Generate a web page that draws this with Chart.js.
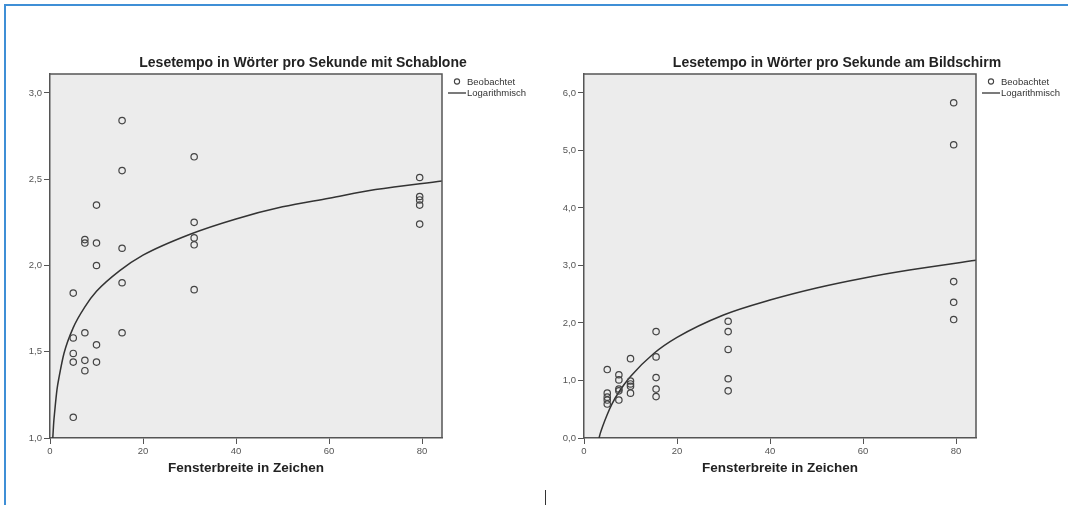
<!DOCTYPE html>
<html lang="de">
<head>
<meta charset="utf-8">
<title>Lesetempo</title>
<script src="https://cdn.jsdelivr.net/npm/chart.js@4.4.1/dist/chart.umd.min.js"></script>
<style>
  body { margin: 0; background: #fff; width: 1068px; height: 505px; overflow: hidden; position: relative; }
  #rahmen { position: absolute; left: 4px; top: 4px; width: 1080px; height: 520px; border-top: 2px solid #3f8fd6; border-left: 2px solid #3f8fd6; }
  canvas { position: absolute; top: 0; }
  #strich { position: absolute; left: 545px; top: 490px; width: 1px; height: 15px; background: #333; }
</style>
</head>
<body>
<div id="rahmen"></div>
<canvas id="links" width="534" height="505" style="left:0"></canvas>
<canvas id="rechts" width="534" height="505" style="left:534px"></canvas>
<div id="strich"></div>
<script>
// Fensterbreiten (x-Achse), pro Breite 5 Messwerte
const breiten = [5, 7.5, 10, 15.5, 31, 79.5];

// Lesetempo mit Schablone (Wörter pro Sekunde)
const tempoSchablone = [
  [1.84, 1.58, 1.49, 1.44, 1.12],
  [2.15, 2.13, 1.61, 1.45, 1.39],
  [2.35, 2.13, 2.00, 1.54, 1.44],
  [2.84, 2.55, 2.10, 1.90, 1.61],
  [2.63, 2.25, 2.16, 2.12, 1.86],
  [2.51, 2.40, 2.38, 2.35, 2.24]
];

// Lesetempo am Bildschirm
const tempoBildschirm = [
  [1.19, 0.78, 0.71, 0.66, 0.59],
  [1.10, 1.01, 0.85, 0.82, 0.66],
  [1.38, 0.99, 0.94, 0.90, 0.78],
  [1.85, 1.41, 1.05, 0.85, 0.72],
  [2.03, 1.85, 1.54, 1.03, 0.82],
  [5.83, 5.10, 2.72, 2.36, 2.06]
];

// logarithmische Kurven
const kurveXSchablone = [0.6, 0.8, 1, 1.5, 2, 3, 5, 7.5, 10, 15, 20, 30, 40, 50, 60, 70, 84.3];
const kurveYSchablone = [1.00, 1.09, 1.15, 1.28, 1.36, 1.49, 1.64, 1.76, 1.85, 1.97, 2.06, 2.18, 2.27, 2.34, 2.39, 2.44, 2.49];
const kurveXBildschirm = [3.23, 3.5, 4, 5, 6, 7.5, 10, 15, 20, 30, 40, 50, 60, 70, 84.3];
const kurveYBildschirm = [0.00, 0.08, 0.20, 0.41, 0.59, 0.80, 1.07, 1.47, 1.75, 2.14, 2.40, 2.61, 2.78, 2.92, 3.09];

// Achsenbeschriftungen
const xTicks = [0, 20, 40, 60, 80];
const yTicksSchablone = [1.0, 1.5, 2.0, 2.5, 3.0];
const yTicksBildschirm = [0, 1, 2, 3, 4, 5, 6];

const legendeTexte = ["Beobachtet", "Logarithmisch"];
const xTitel = "Fensterbreite in Zeichen";

Chart.defaults.font.family = '"Liberation Sans", Arial, sans-serif';

// Hintergrund, Rahmen, Titel und Legende
function beschriftung(titel) {
  return {
    id: "beschriftung",
    beforeDraw(chart) {
      const { ctx, chartArea: a } = chart;
      ctx.save();
      ctx.fillStyle = "#ececec";
      ctx.fillRect(a.left, a.top, a.right - a.left, a.bottom - a.top);
      ctx.restore();
    },
    afterDraw(chart) {
      const { ctx, chartArea: a } = chart;
      ctx.save();
      // oberer und rechter Rand
      ctx.strokeStyle = "#555";
      ctx.lineWidth = 1.5;
      ctx.beginPath();
      ctx.moveTo(a.left, a.top);
      ctx.lineTo(a.right, a.top);
      ctx.lineTo(a.right, a.bottom);
      ctx.stroke();
      // Titel
      ctx.fillStyle = "#222";
      ctx.font = 'bold 14px "Liberation Sans", Arial, sans-serif';
      ctx.textAlign = "center";
      ctx.textBaseline = "middle";
      ctx.fillText(titel, 303, 63);
      // Legende
      ctx.font = '9.5px "Liberation Sans", Arial, sans-serif';
      ctx.textAlign = "left";
      ctx.fillStyle = "#333";
      ctx.strokeStyle = "#444";
      ctx.lineWidth = 1.1;
      ctx.beginPath();
      ctx.arc(457, 81.5, 2.6, 0, Math.PI * 2);
      ctx.stroke();
      ctx.fillText(legendeTexte[0], 467, 82);
      ctx.strokeStyle = "#333";
      ctx.lineWidth = 1.3;
      ctx.beginPath();
      ctx.moveTo(448, 93);
      ctx.lineTo(466, 93);
      ctx.stroke();
      ctx.fillText(legendeTexte[1], 467, 93.5);
      ctx.restore();
    }
  };
}

function baueConfig(werte, kurveX, kurveY, yTicks, yMin, yMax, titel) {
  const punkte = [];
  breiten.forEach(function (b, i) {
    werte[i].forEach(function (v) { punkte.push({ x: b, y: v }); });
  });
  const kurve = kurveX.map(function (x, i) { return { x: x, y: kurveY[i] }; });

  return {
    type: "scatter",
    data: {
      datasets: [
        {
          label: legendeTexte[0],
          data: punkte,
          pointStyle: "circle",
          pointRadius: 3.2,
          borderWidth: 1.2,
          borderColor: "#444",
          backgroundColor: "rgba(0,0,0,0)"
        },
        {
          label: legendeTexte[1],
          data: kurve,
          showLine: true,
          pointRadius: 0,
          borderColor: "#333",
          borderWidth: 1.5,
          cubicInterpolationMode: "monotone",
          fill: false
        }
      ]
    },
    options: {
      responsive: false,
      animation: false,
      events: [],
      layout: { padding: { left: 10, right: 92, top: 74, bottom: 29 } },
      plugins: { legend: { display: false }, tooltip: { enabled: false } },
      scales: {
        x: {
          type: "linear",
          min: 0,
          max: 84.3,
          afterBuildTicks: function (s) { s.ticks = xTicks.map(function (v) { return { value: v }; }); },
          afterFit: function (s) { s.height = 38; },
          grid: { drawOnChartArea: false, drawTicks: true, tickLength: 6, color: "#555" },
          border: { display: true, color: "#555", width: 1.5 },
          ticks: { font: { size: 9.5 }, color: "#555", padding: 2, maxRotation: 0, autoSkip: false },
          title: { display: true, text: xTitel, color: "#222", font: { size: 13.5, weight: "bold" }, padding: { top: 4, bottom: 0 } }
        },
        y: {
          type: "linear",
          min: yMin,
          max: yMax,
          afterBuildTicks: function (s) { s.ticks = yTicks.map(function (v) { return { value: v }; }); },
          afterFit: function (s) { s.width = 40; },
          grid: { drawOnChartArea: false, drawTicks: true, tickLength: 6, color: "#555" },
          border: { display: true, color: "#555", width: 1.5 },
          ticks: {
            font: { size: 9.5 },
            color: "#555",
            padding: 2,
            autoSkip: false,
            callback: function (v) { return Number(v).toFixed(1).replace(".", ","); }
          }
        }
      }
    },
    plugins: [beschriftung(titel)]
  };
}

let chartLinks = new Chart(document.getElementById("links").getContext("2d"),
  baueConfig(tempoSchablone, kurveXSchablone, kurveYSchablone, yTicksSchablone, 1.0, 3.11,
    "Lesetempo in Wörter pro Sekunde mit Schablone"));

let chartRechts = new Chart(document.getElementById("rechts").getContext("2d"),
  baueConfig(tempoBildschirm, kurveXBildschirm, kurveYBildschirm, yTicksBildschirm, 0, 6.33,
    "Lesetempo in Wörter pro Sekunde am Bildschirm"));
</script>
</body>
</html>
